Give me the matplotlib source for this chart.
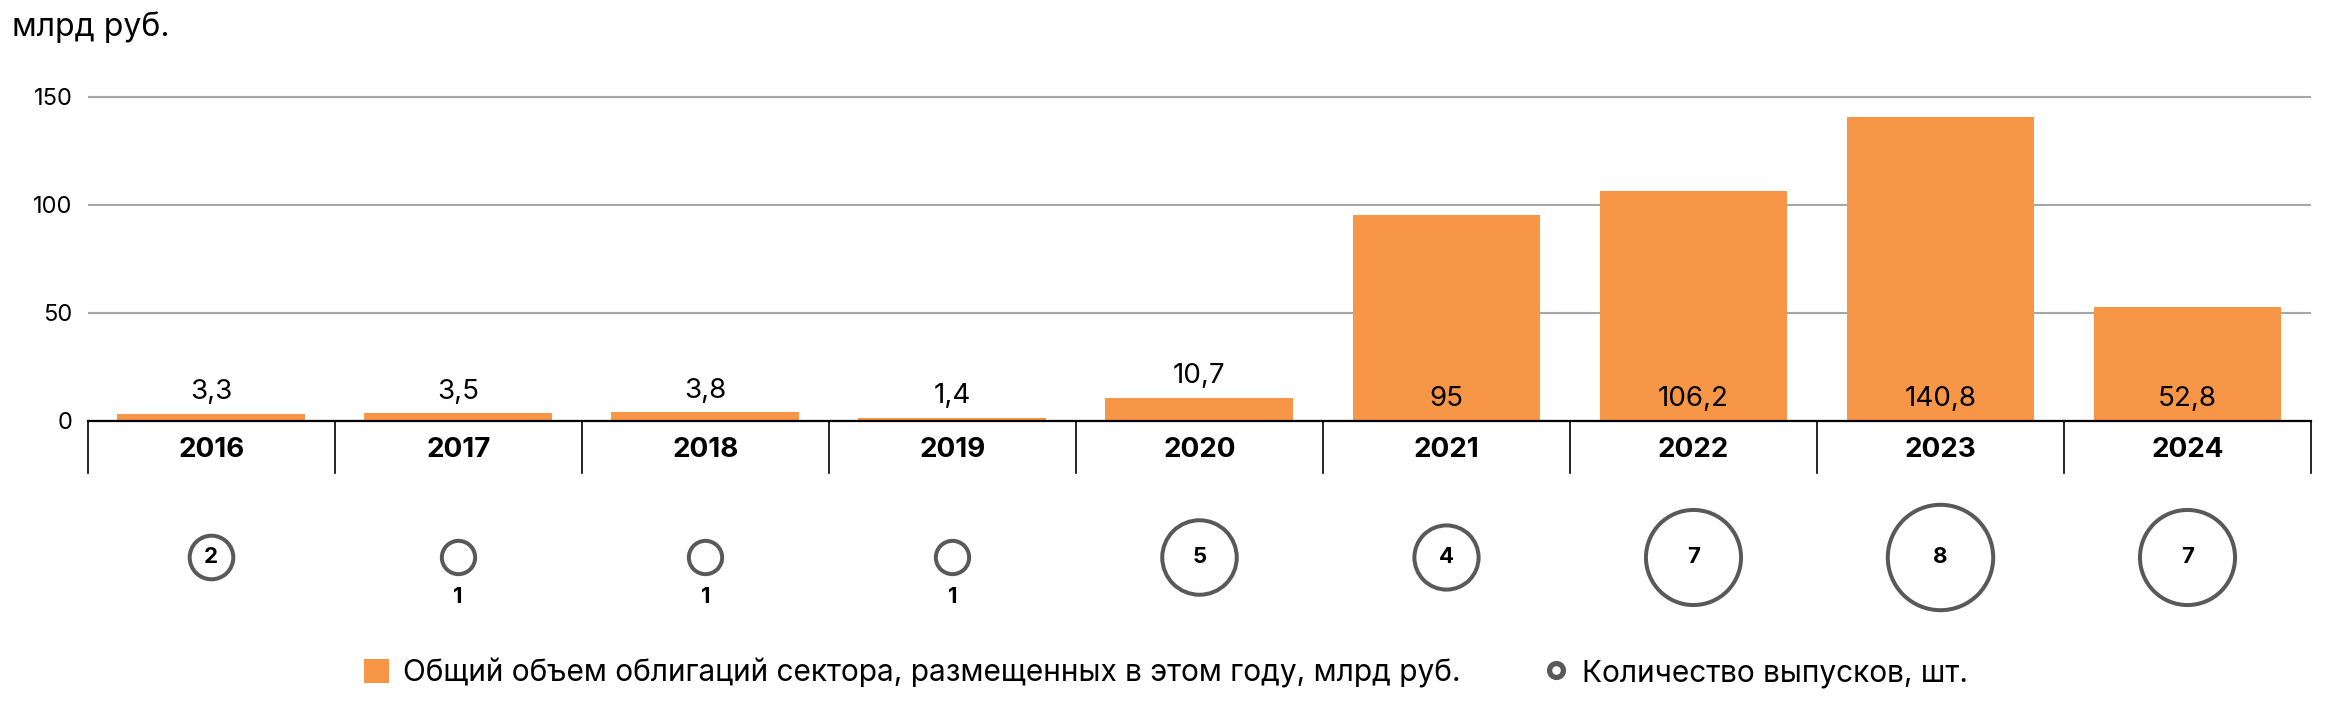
import matplotlib
matplotlib.use("Agg")
import matplotlib.pyplot as plt
from matplotlib.patches import Patch
from matplotlib.lines import Line2D

plt.rcParams['font.family'] = ['Inter', 'DejaVu Sans']

years = ['2016', '2017', '2018', '2019', '2020', '2021', '2022', '2023', '2024']
volumes = [3.3, 3.5, 3.8, 1.4, 10.7, 95, 106.2, 140.8, 52.8]
volume_labels = ['3,3', '3,5', '3,8', '1,4', '10,7', '95', '106,2', '140,8', '52,8']
issues = [2, 1, 1, 1, 5, 4, 7, 8, 7]
yticks = [0, 50, 100, 150]

legend_bar = 'Общий объем облигаций сектора, размещенных в этом году, млрд руб.'
legend_circle = 'Количество выпусков, шт.'
unit_label = 'млрд руб.'

ORANGE = '#F79646'
GRAY = '#595959'
GRID = '#A6A6A6'

W, H = 2330, 720
fig = plt.figure(figsize=(W / 100, H / 100), dpi=100)

left_px, right_px = 87.7, 2311
zero_px = 420.7
px_per_unit = (420.7 - 96.7) / 150
ytop = 155
top_px = zero_px - ytop * px_per_unit
ax = fig.add_axes([left_px / W, 1 - zero_px / H, (right_px - left_px) / W, (zero_px - top_px) / H])

x = list(range(len(years)))
ax.bar(x, volumes, width=0.76, color=ORANGE, zorder=3)
ax.set_xlim(-0.5, len(years) - 0.5)
ax.set_ylim(0, ytop)

for s in ['top', 'right', 'left']:
    ax.spines[s].set_visible(False)
ax.spines['bottom'].set_color('black')
ax.spines['bottom'].set_linewidth(1.6)
ax.spines['bottom'].set_zorder(4)

ax.set_yticks(yticks)
ax.set_yticklabels([str(t) for t in yticks], fontsize=17)
ax.tick_params(axis='y', length=0, pad=11)
ax.yaxis.grid(True, color=GRID, linewidth=1.5, zorder=0)
ax.set_axisbelow(True)

ax.set_xticks(x)
ax.set_xticklabels(years, fontsize=20, fontweight='bold')
ax.tick_params(axis='x', length=0, pad=21)
for lbl in ax.get_xticklabels():
    lbl.set_va('center')

# category separators
sep_depth = (473 - zero_px) / px_per_unit
for b in [i - 0.5 for i in range(len(years) + 1)]:
    ax.plot([b, b], [0, -sep_depth], color='black', linewidth=1.2, clip_on=False, zorder=4)

# value labels
for i, (v, lab) in enumerate(zip(volumes, volume_labels)):
    if v > 30:
        ax.annotate(lab, xy=(i, 0), xytext=(0, 6), textcoords='offset points',
                    ha='center', va='bottom', fontsize=20, zorder=5)
    else:
        ax.annotate(lab, xy=(i, v), xytext=(0, 6), textcoords='offset points',
                    ha='center', va='bottom', fontsize=20, zorder=5)

# bubble row
b_top, b_bot = 480, 640
ax2 = fig.add_axes([left_px / W, 1 - b_bot / H, (right_px - left_px) / W, (b_bot - b_top) / H])
ax2.set_xlim(ax.get_xlim())
ax2.set_ylim(b_bot, b_top)
ax2.axis('off')
row_y = 557
for i, n in enumerate(issues):
    d_px = 27 + 10.3 * n
    lw_px = 4
    ax2.plot([i], [row_y], marker='o', markersize=(d_px - lw_px) * 0.72,
             markerfacecolor='white', markeredgecolor=GRAY, markeredgewidth=lw_px * 0.72,
             linestyle='none')
    if n == 1:
        ax2.annotate(str(n), xy=(i, row_y), xytext=(0, -29), textcoords='offset points',
                     ha='center', va='center', fontsize=16, fontweight='bold')
    else:
        ax2.text(i, row_y, str(n), ha='center', va='center', fontsize=16, fontweight='bold')

fig.text(12 / W, 1 - 27 / H, unit_label, ha='left', va='center', fontsize=23)

handles = [
    Patch(facecolor=ORANGE, edgecolor='none'),
    Line2D([], [], marker='o', linestyle='none', markersize=10, markerfacecolor='white',
           markeredgecolor=GRAY, markeredgewidth=3.8),
]
fig.legend(handles, [legend_bar, legend_circle], loc='center left',
           bbox_to_anchor=(364 / W, 1 - 673 / H), ncol=2, frameon=False,
           fontsize=21.5, handlelength=0.84, handleheight=0.84, handletextpad=0.45,
           columnspacing=2.8, borderpad=0, borderaxespad=0)

fig.savefig('out.png', dpi=100, facecolor='white')
